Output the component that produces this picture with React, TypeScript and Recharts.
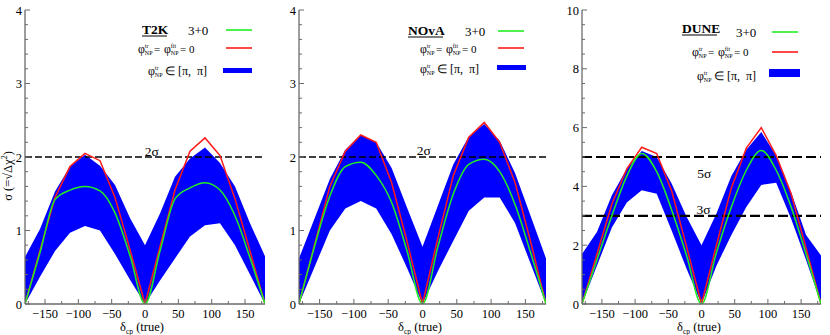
import React from 'react';
import { ComposedChart, Line, Area, XAxis, YAxis, ReferenceLine, ReferenceDot } from 'recharts';

// ---------- data ----------
const deltaCP = [-180, -157.5, -135, -112.5, -90, -67.5, -45, -22.5, 0, 22.5, 45, 67.5, 90, 112.5, 135, 157.5, 180];

const t2kStd = [0, 0.70, 1.42, 1.55, 1.60, 1.54, 1.24, 0.66, 0, 0.72, 1.43, 1.58, 1.65, 1.55, 1.20, 0.63, 0];
const t2kNP0 = [0, 0.73, 1.45, 1.87, 2.05, 1.95, 1.45, 0.74, 0, 0.78, 1.55, 2.08, 2.26, 2.02, 1.43, 0.72, 0];
const t2kLo = [0, 0.37, 0.72, 0.97, 1.06, 1.00, 0.68, 0.33, 0, 0.32, 0.62, 0.92, 1.07, 1.10, 0.80, 0.40, 0];
const t2kHi = [0.64, 1.02, 1.53, 1.87, 2.03, 1.88, 1.62, 1.17, 0.80, 1.23, 1.73, 1.98, 2.13, 1.92, 1.60, 1.10, 0.65];

const novaStd = [0, 0.78, 1.47, 1.87, 1.93, 1.75, 1.38, 0.72, 0, 0.78, 1.50, 1.90, 1.97, 1.80, 1.35, 0.70, 0];
const novaNP0 = [0, 0.80, 1.60, 2.08, 2.30, 2.20, 1.65, 0.85, 0, 0.90, 1.75, 2.27, 2.47, 2.20, 1.65, 0.85, 0];
const novaLo = [0, 0.50, 1.00, 1.30, 1.40, 1.30, 0.95, 0.49, 0, 0.45, 0.86, 1.27, 1.45, 1.45, 1.10, 0.55, 0];
const novaHi = [0.62, 1.16, 1.70, 2.10, 2.30, 2.20, 1.85, 1.31, 0.78, 1.34, 1.90, 2.28, 2.45, 2.22, 1.78, 1.20, 0.62];

const duneStd = [0, 1.50, 3.00, 4.35, 5.12, 4.50, 3.20, 1.65, 0, 1.75, 3.30, 4.55, 5.22, 4.55, 3.30, 1.70, 0];
const duneNP0 = [0, 1.69, 3.40, 4.60, 5.33, 5.12, 3.85, 1.95, 0, 2.00, 3.95, 5.30, 6.00, 5.05, 3.75, 1.90, 0];
const duneLo = [0, 1.30, 2.60, 3.45, 3.87, 3.75, 2.50, 1.20, 0, 1.30, 2.35, 3.30, 4.05, 4.12, 2.90, 1.50, 0];
const duneHi = [1.70, 2.45, 3.70, 4.60, 5.20, 5.00, 4.10, 2.97, 2.00, 3.08, 4.35, 5.25, 5.85, 5.05, 3.80, 2.35, 1.65];

const xMajorTicks = [-150, -100, -50, 0, 50, 100, 150];
const xMinorStep = 25;
const yMajorSmall = [0, 1, 2, 3, 4];
const yMajorDune = [0, 2, 4, 6, 8, 10];

// ---------- styles ----------
const SERIF = "Liberation Serif, Times New Roman, serif";
const FRAME = '#6a6a6a';
const GREEN = '#22ee22';
const RED = '#ff1a1a';
const BLUE = '#0000ff';
const serifStyle = { fontFamily: SERIF };

const fmt = (v: number) => (v < 0 ? '\u2212' + Math.abs(v) : String(v));

function buildTicks(major: number[], minorStep: number, lo: number, hi: number) {
  const out: number[] = [];
  const n = Math.round((hi - lo) / minorStep);
  for (let i = 0; i <= n; i++) out.push(Math.round((lo + i * minorStep) * 1000) / 1000);
  major.forEach((m) => { if (!out.includes(m)) out.push(m); });
  return out.sort((a, b) => a - b);
}

const isMajor = (v: number, major: number[]) => major.some((m) => Math.abs(m - v) < 1e-6);

const makeXTick = (side: 'bottom' | 'top') => (props: any) => {
  const { x, y, payload } = props;
  const v = payload.value;
  const major = isMajor(v, xMajorTicks);
  const len = major ? 5 : 3;
  const dir = side === 'bottom' ? -1 : 1;
  return (
    <g>
      <line x1={x} x2={x} y1={y} y2={y + dir * len} stroke={FRAME} strokeWidth={1} />
      {side === 'bottom' && major && (
        <text x={x} y={y + 14} textAnchor="middle" fontSize={12.5} style={serifStyle} fill="#000">{fmt(v)}</text>
      )}
    </g>
  );
};

const makeYTick = (side: 'left' | 'right', major: number[]) => (props: any) => {
  const { x, y, payload } = props;
  const v = payload.value;
  const isM = isMajor(v, major);
  const len = isM ? 5 : 3;
  const dir = side === 'left' ? 1 : -1;
  return (
    <g>
      <line x1={x} x2={x + dir * len} y1={y} y2={y} stroke={FRAME} strokeWidth={1} />
      {side === 'left' && isM && (
        <text x={x - 3} y={y + 4.5} textAnchor="end" fontSize={12.5} style={serifStyle} fill="#000">{v}</text>
      )}
    </g>
  );
};

type SigmaMark = { level: number; label: string; labelX: number; labelY: number };

type PanelProps = {
  left: number;
  width: number;
  yAxisWidth: number;
  rightMargin: number;
  yMax: number;
  yMajor: number[];
  yMinorStep: number;
  std: number[];
  np0: number[];
  lo: number[];
  hi: number[];
  sigmas: SigmaMark[];
  dashWidth: number;
  dash: string;
};

function Panel(p: PanelProps) {
  const data = deltaCP.map((d, i) => ({ d, std: p.std[i], np0: p.np0[i], band: [p.lo[i], p.hi[i]] }));
  const xTicks = buildTicks(xMajorTicks, xMinorStep, -175, 175);
  const yTicks = buildTicks(p.yMajor, p.yMinorStep, 0, p.yMax);
  return (
    <div style={{ position: 'absolute', left: p.left, top: 0, width: p.width, height: 335 }}>
      <ComposedChart width={p.width} height={335} data={data} margin={{ top: 10, right: p.rightMargin, bottom: 0, left: 0 }}>
        <XAxis xAxisId="b" dataKey="d" type="number" domain={[-180, 180]} ticks={xTicks} interval={0}
          orientation="bottom" height={31} tickSize={0} tickMargin={0} tick={makeXTick('bottom')}
          axisLine={{ stroke: FRAME, strokeWidth: 1.3 }} tickLine={false} allowDataOverflow />
        <XAxis xAxisId="t" dataKey="d" type="number" domain={[-180, 180]} ticks={xTicks} interval={0}
          orientation="top" height={0} tickSize={0} tickMargin={0} tick={makeXTick('top')}
          axisLine={{ stroke: FRAME, strokeWidth: 1.3 }} tickLine={false} allowDataOverflow />
        <YAxis yAxisId="l" type="number" domain={[0, p.yMax]} ticks={yTicks} interval={0}
          orientation="left" width={p.yAxisWidth} tickSize={0} tickMargin={0} tick={makeYTick('left', p.yMajor)}
          axisLine={{ stroke: FRAME, strokeWidth: 1.3 }} tickLine={false} allowDataOverflow />
        <YAxis yAxisId="r" type="number" domain={[0, p.yMax]} ticks={yTicks} interval={0}
          orientation="right" width={0} tickSize={0} tickMargin={0} tick={makeYTick('right', p.yMajor)}
          axisLine={{ stroke: FRAME, strokeWidth: 1.3 }} tickLine={false} allowDataOverflow />
        <Area xAxisId="b" yAxisId="l" dataKey="band" type="linear" fill={BLUE} fillOpacity={1} stroke="none" isAnimationActive={false} />
        {p.sigmas.map((s) => (
          <ReferenceLine key={'l' + s.level} xAxisId="b" yAxisId="l" y={s.level} stroke="#000" strokeWidth={p.dashWidth} strokeDasharray={p.dash} />
        ))}
        <Line xAxisId="b" yAxisId="l" dataKey="np0" type="linear" stroke={RED} strokeWidth={1.5} dot={false} isAnimationActive={false} />
        <Line xAxisId="b" yAxisId="l" dataKey="std" type="monotone" stroke={GREEN} strokeWidth={1.5} dot={false} isAnimationActive={false} />
        {p.sigmas.map((s) => (
          <ReferenceDot key={'d' + s.level} xAxisId="b" yAxisId="l" x={s.labelX} y={s.labelY} r={0} stroke="none" fill="none"
            label={{ value: s.label, position: 'top', offset: 0, fontSize: 13.5, fill: '#000', style: serifStyle }} />
        ))}
      </ComposedChart>
    </div>
  );
}

function PhiNP({ x, y, sup }: { x: number; y: number; sup: string }) {
  return (
    <g style={serifStyle} fill="#000">
      <text x={x} y={y} fontSize={12}>φ</text>
      <text x={x + 6.8} y={y - 5} fontSize={6}>{sup}</text>
      <text x={x + 6.8} y={y + 1.5} fontSize={6}>NP</text>
    </g>
  );
}

function Legend({ title, titleX, titleY, x30, y30, lineX, lineW, gy, ry, phiX, phiY, rectX, rectY, rectW, rectH, inX, inY, titleW }: any) {
  return (
    <g style={serifStyle}>
      <text x={titleX} y={titleY} fontSize={13.5} fontWeight="bold" fill="#000">{title}</text>
      <line x1={titleX} x2={titleX + titleW} y1={titleY + 2} y2={titleY + 2} stroke="#000" strokeWidth={1} />
      <text x={x30} y={y30} fontSize={13} fill="#000">3+0</text>
      <line x1={lineX} x2={lineX + lineW} y1={gy} y2={gy} stroke={GREEN} strokeWidth={1.6} />
      <line x1={lineX} x2={lineX + lineW} y1={ry} y2={ry} stroke={RED} strokeWidth={1.6} />
      <PhiNP x={phiX} y={phiY} sup="tr" />
      <text x={phiX + 16} y={phiY} fontSize={11} fill="#000">=</text>
      <PhiNP x={phiX + 26} y={phiY} sup="fit" />
      <text x={phiX + 42} y={phiY} fontSize={11} fill="#000">= 0</text>
      <rect x={rectX} y={rectY} width={rectW} height={rectH} fill={BLUE} />
      <PhiNP x={inX} y={inY} sup="tr" />
      <text x={inX + 17} y={inY} fontSize={12} fill="#000" style={{ whiteSpace: 'pre', fontFamily: SERIF }}>{'∈ [π,  π]'}</text>
    </g>
  );
}

function XTitle({ cx }: { cx: number }) {
  return (
    <text x={cx} y={331} textAnchor="middle" fontSize={12.5} style={serifStyle} fill="#000">
      δ<tspan fontSize={7.5} dy={3}>cp</tspan><tspan dy={-3}> (true)</tspan>
    </text>
  );
}

export default function App() {
  return (
    <div style={{ position: 'absolute', left: 0, top: 0, width: 830, height: 335, background: '#fff', overflow: 'hidden' }}>
      <Panel left={0} width={275} yAxisWidth={25} rightMargin={10} yMax={4} yMajor={yMajorSmall} yMinorStep={0.2}
        std={t2kStd} np0={t2kNP0} lo={t2kLo} hi={t2kHi} dashWidth={1.5} dash="7 3"
        sigmas={[{ level: 2, label: '2σ', labelX: 10, labelY: 2.02 }]} />
      <Panel left={275} width={280} yAxisWidth={24} rightMargin={9} yMax={4} yMajor={yMajorSmall} yMinorStep={0.2}
        std={novaStd} np0={novaNP0} lo={novaLo} hi={novaHi} dashWidth={1.5} dash="7 3"
        sigmas={[{ level: 2, label: '2σ', labelX: 2, labelY: 2.03 }]} />
      <Panel left={555} width={275} yAxisWidth={27} rightMargin={9} yMax={10} yMajor={yMajorDune} yMinorStep={0.5}
        std={duneStd} np0={duneNP0} lo={duneLo} hi={duneHi} dashWidth={2.2} dash="10 4"
        sigmas={[{ level: 5, label: '5σ', labelX: 4, labelY: 4.28 }, { level: 3, label: '3σ', labelX: 3, labelY: 3.06 }]} />
      <svg width={830} height={335} style={{ position: 'absolute', left: 0, top: 0, pointerEvents: 'none' }}>
        <Legend title="T2K" titleX={142} titleY={34} titleW={25} x30={188} y30={35} lineX={226} lineW={26} gy={30} ry={48}
          phiX={138} phiY={53} rectX={223} rectY={68} rectW={29} rectH={5} inX={148} inY={75} />
        <Legend title="NOvA" titleX={408} titleY={35} titleW={35} x30={465} y30={36} lineX={498} lineW={26} gy={31} ry={48}
          phiX={420} phiY={53} rectX={497} rectY={65} rectW={29} rectH={5} inX={420} inY={73} />
        <Legend title="DUNE" titleX={682} titleY={33} titleW={35} x30={736} y30={37} lineX={772} lineW={26} gy={32} ry={52}
          phiX={692} phiY={56} rectX={769} rectY={69} rectW={31} rectH={8} inX={697} inY={80} />
        <XTitle cx={142} />
        <XTitle cx={420} />
        <XTitle cx={699} />
        <text transform="translate(12,176) rotate(-90)" textAnchor="middle" fontSize={12.5} style={serifStyle} fill="#000">
          σ (=√Δχ<tspan fontSize={8} dy={-5}>2</tspan><tspan dy={5}>)</tspan>
        </text>
      </svg>
    </div>
  );
}
